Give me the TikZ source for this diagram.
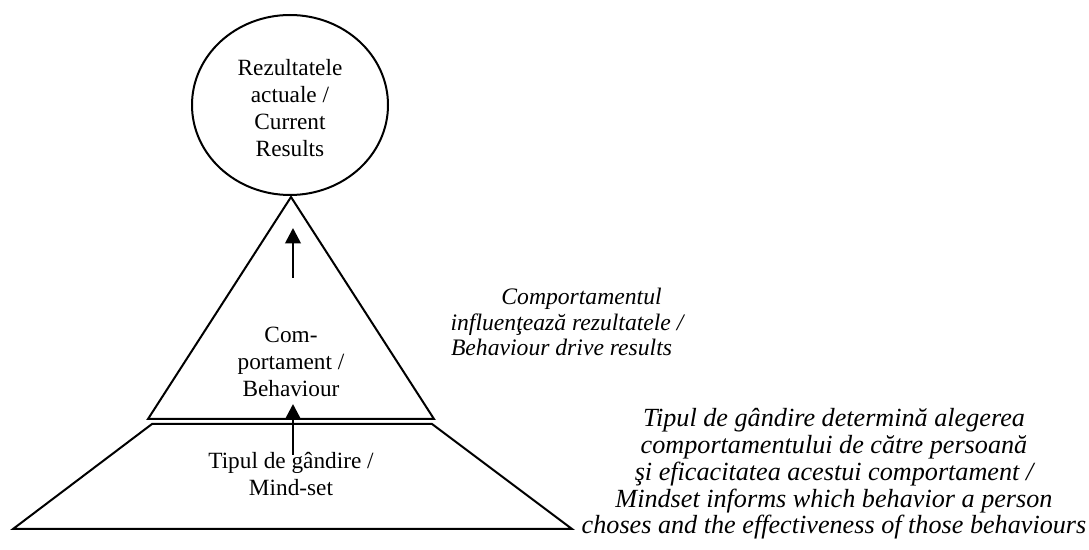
\documentclass[tikz,border=0pt]{standalone}
\usepackage{fontspec}
\setmainfont{Liberation Serif}
\usetikzlibrary{shapes.geometric,arrows.meta}
\begin{document}
\begin{tikzpicture}[x=0.55pt,y=-0.55pt,
  shape line/.style={draw=black,line width=1.1pt,line join=miter},
  lbl/.style={align=center,inner sep=0pt,font=\fontsize{12.8}{14.9}\selectfont},
  note/.style={align=center,inner sep=0pt,font=\fontsize{13}{14.1}\selectfont\itshape},
  bignote/.style={align=center,inner sep=0pt,font=\fontsize{14.4}{14.7}\selectfont\itshape},
  uparrow/.style={line width=1.5pt,-{Triangle[length=8.5pt,width=8.5pt]}}]
\useasboundingbox (0,0) rectangle (1089,550);
% shapes
\node[shape line,ellipse,minimum width=196*0.55pt,minimum height=180*0.55pt,inner sep=0pt] (res) at (290,105) {};
\draw[shape line] (291,197) coordinate (apex) -- (434,419) -- (148,419) -- cycle;
\draw[shape line] (152,424) -- (432,424) -- (572,529) -- (13,529) -- cycle;
% texts
\node[lbl] (restext) at (290,108) {Rezultatele\\actuale /\\Current\\Results};
\node[lbl] (beh) at (291,362) {Com-\\portament /\\Behaviour};
\node[lbl] (mind) at (291,474) {Tipul de gândire /\\Mind-set};
\node[note] (n1) at (567,322) {\hspace*{16pt}Comportamentul\\influenţează rezultatele /\\Behaviour drive results\hspace*{6pt}};
\node[bignote] (n2) at (834,474) {Tipul de gândire determină alegerea\\comportamentului de către persoană\\şi eficacitatea acestui comportament /\\Mindset informs which behavior a person\\choses and the effectiveness of those behaviours};
% arrows
\coordinate (a1s) at (293,278);
\coordinate (a1e) at (293,228);
\coordinate (a2s) at (293,455);
\coordinate (a2e) at (293,404);
\draw[uparrow] (a1s) -- (a1e);
\draw[uparrow] (a2s) -- (a2e);
\end{tikzpicture}
\end{document}
